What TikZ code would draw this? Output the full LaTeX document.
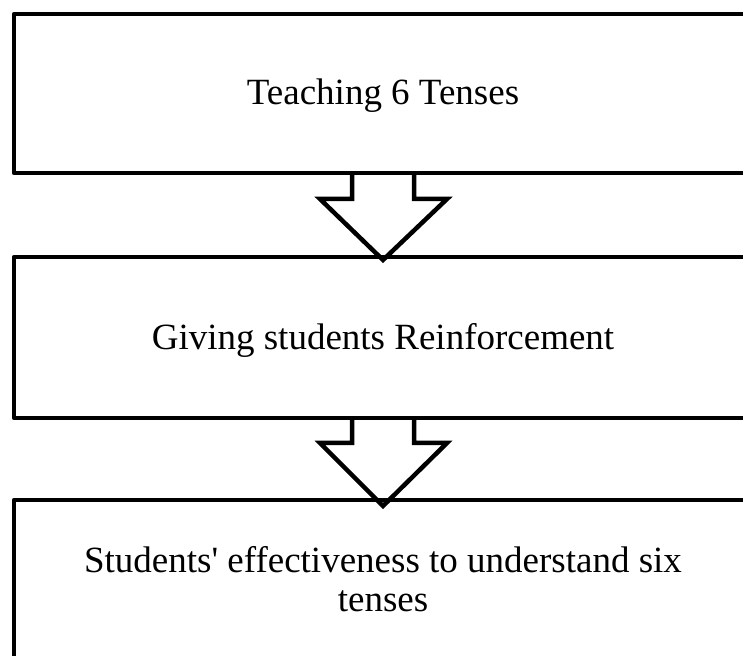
\documentclass[tikz,border=0pt]{standalone}
\usepackage{fontspec}
\setmainfont{Liberation Serif}[Ligatures=TeXOff]
\usetikzlibrary{calc}
\tikzset{
  boxshape/.style={draw=black, line width=4.5pt, rectangle, outer sep=0pt, inner sep=0pt, minimum width=786pt, line join=round},
  arrowshape/.style={draw=black, line width=4.5pt, line join=miter},
  label/.style={font=\fontsize{37}{39}\selectfont, inner sep=0pt, align=center}
}
\begin{document}
\begin{tikzpicture}[x=1pt,y=1pt]
\useasboundingbox (0,0) rectangle (743,655);
\clip (0,0) rectangle (743,655);
\node[boxshape, minimum height=159pt, anchor=north west] (b1) at (14,641) {};
\node[boxshape, minimum height=161pt, anchor=north west] (b2) at (14,398) {};
\node[boxshape, minimum height=220pt, anchor=north west] (b3) at (14,155) {};
\node[label, anchor=base] (t1) at (383,550) {Teaching 6 Tenses};
\node[label, anchor=base] (t2) at (383,305) {Giving students Reinforcement};
\node[label, anchor=base] (t3) at (383,43) {Students' effectiveness to understand six\\tenses};
\coordinate (a1) at (b1.south -| t1.base);
\coordinate (a2) at (b2.south -| t2.base);
\draw[arrowshape] ($(a1)+(-31,0)$) -- ++(0,-26) -- ++(-32,0) -- ($(a1)+(0,-87)$) -- ++(64,61) -- ++(-33,0) -- ($(a1)+(31,0)$);
\draw[arrowshape] ($(a2)+(-31,0)$) -- ++(0,-25) -- ++(-32,0) -- ($(a2)+(0,-88)$) -- ++(64,63) -- ++(-33,0) -- ($(a2)+(31,0)$);
\end{tikzpicture}
\end{document}
